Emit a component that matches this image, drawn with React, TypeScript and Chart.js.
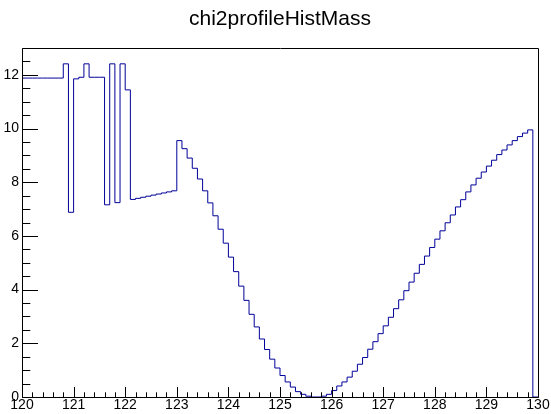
import { useEffect, useRef } from 'react';
import { Chart, registerables } from 'chart.js';

Chart.register(...registerables);

// ---- data ----
const histTitle = 'chi2profileHistMass';
const xMin = 120;
const xMax = 130;
const yMin = 0;
const yMax = 13;
// bin contents, 100 bins of width 0.1 from 120 to 130
const binValues = [
  11.88, 11.88, 11.88, 11.88, 11.88, 11.88, 11.88, 11.88, 12.41, 6.88,
  11.85, 11.91, 12.41, 11.91, 11.91, 11.91, 7.16, 12.41, 7.24, 12.41,
  11.44, 7.36, 7.40, 7.44, 7.48, 7.52, 7.56, 7.60, 7.64, 7.68,
  9.55, 9.25, 8.90, 8.52, 8.12, 7.68, 7.23, 6.75, 6.25, 5.73,
  5.21, 4.67, 4.13, 3.60, 3.08, 2.61, 2.16, 1.77, 1.41, 1.08,
  0.80, 0.56, 0.37, 0.20, 0.10, 0.03, 0.00, 0.00, 0.03, 0.10,
  0.24, 0.41, 0.56, 0.74, 0.96, 1.22, 1.47, 1.78, 2.06, 2.36,
  2.65, 2.97, 3.29, 3.62, 3.96, 4.28, 4.61, 4.94, 5.25, 5.57,
  5.88, 6.19, 6.49, 6.78, 7.08, 7.35, 7.64, 7.90, 8.15, 8.38,
  8.60, 8.82, 9.03, 9.20, 9.39, 9.55, 9.70, 9.83, 9.95, 0.00,
];
const xTickLabels = ['120', '121', '122', '123', '124', '125', '126', '127', '128', '129', '130'];
const yTickLabels = ['0', '2', '4', '6', '8', '10', '12'];

const FONT = '"Liberation Sans", Arial, Helvetica, sans-serif';

function buildPoints() {
  const n = binValues.length;
  const w = (xMax - xMin) / n;
  const pts = binValues.map((v, i) => ({ x: xMin + i * w, y: v }));
  pts.push({ x: xMax, y: binValues[n - 1] });
  return pts;
}

const rootFramePlugin = {
  id: 'rootFrame',
  afterDatasetsDraw(chart: any) {
    const ctx = chart.ctx;
    const xs = chart.scales.x;
    const ys = chart.scales.y;
    const { left, right, top, bottom } = chart.chartArea;
    const L = Math.round(left) + 0.5;
    const R = Math.round(right) + 0.5;
    const T = Math.round(top) + 0.5;
    const B = Math.round(bottom) + 0.5;
    ctx.save();
    ctx.strokeStyle = '#000';
    ctx.lineWidth = 1;
    ctx.beginPath();
    ctx.rect(L, T, R - L, B - T);
    ctx.stroke();
    // x ticks (major every 1, minor every 0.2)
    ctx.beginPath();
    const nx = Math.round((xMax - xMin) / 0.2);
    for (let k = 0; k <= nx; k++) {
      const v = xMin + k * 0.2;
      const px = Math.round(xs.getPixelForValue(v)) + 0.5;
      const len = k % 5 === 0 ? 10.5 : 5.2;
      ctx.moveTo(px, B);
      ctx.lineTo(px, B - len);
    }
    // y ticks (major every 2, minor every 0.5)
    const ny = Math.round((yMax - yMin) / 0.5);
    for (let k = 0; k <= ny; k++) {
      const v = yMin + k * 0.5;
      const py = Math.round(ys.getPixelForValue(v)) + 0.5;
      const len = k % 4 === 0 ? 15.5 : 7.8;
      ctx.moveTo(L, py);
      ctx.lineTo(L + len, py);
    }
    ctx.stroke();
    ctx.restore();
  },
};

export default function App() {
  const ref = useRef<HTMLCanvasElement | null>(null);
  useEffect(() => {
    if (!ref.current) return;
    const chart = new Chart(ref.current, {
      type: 'line',
      data: {
        datasets: [
          {
            data: buildPoints(),
            borderColor: '#000099',
            borderWidth: 1,
            pointRadius: 0,
            fill: false,
            stepped: 'before',
            tension: 0,
          },
        ],
      },
      options: {
        responsive: false,
        animation: false,
        devicePixelRatio: 1,
        layout: { padding: { left: 0, right: 13, top: 0, bottom: 0 } },
        plugins: {
          legend: { display: false },
          tooltip: { enabled: false },
          title: {
            display: true,
            text: histTitle,
            fullSize: false,
            color: '#000',
            font: { family: FONT, size: 21, weight: 'normal' },
            padding: { top: 7, bottom: 15.8 },
          },
        },
        scales: {
          x: {
            type: 'linear',
            min: xMin,
            max: xMax,
            afterFit: (s: any) => {
              s.height = 17;
            },
            grid: { display: false, drawTicks: false },
            border: { display: false },
            ticks: {
              stepSize: 1,
              autoSkip: false,
              maxRotation: 0,
              padding: 0,
              color: '#000',
              font: { family: FONT, size: 14 },
              callback: (v: any) => {
                const i = Math.round(Number(v) - xMin);
                return xTickLabels[i] ?? '';
              },
            },
          },
          y: {
            type: 'linear',
            min: yMin,
            max: yMax,
            afterFit: (s: any) => {
              s.width = 22;
            },
            grid: { display: false, drawTicks: false },
            border: { display: false },
            ticks: {
              stepSize: 2,
              includeBounds: false,
              padding: 3,
              color: '#000',
              font: { family: FONT, size: 14 },
              callback: (v: any) => {
                const i = Math.round(Number(v) / 2);
                return Number(v) % 2 === 0 ? yTickLabels[i] ?? '' : '';
              },
            },
          },
        },
      },
      plugins: [rootFramePlugin],
    } as any);
    return () => chart.destroy();
  }, []);
  return (
    <div style={{ position: 'fixed', left: 0, top: 0, width: 551, height: 414, background: '#fff' }}>
      <canvas ref={ref} width={551} height={414} style={{ width: 551, height: 414, display: 'block' }} />
    </div>
  );
}
